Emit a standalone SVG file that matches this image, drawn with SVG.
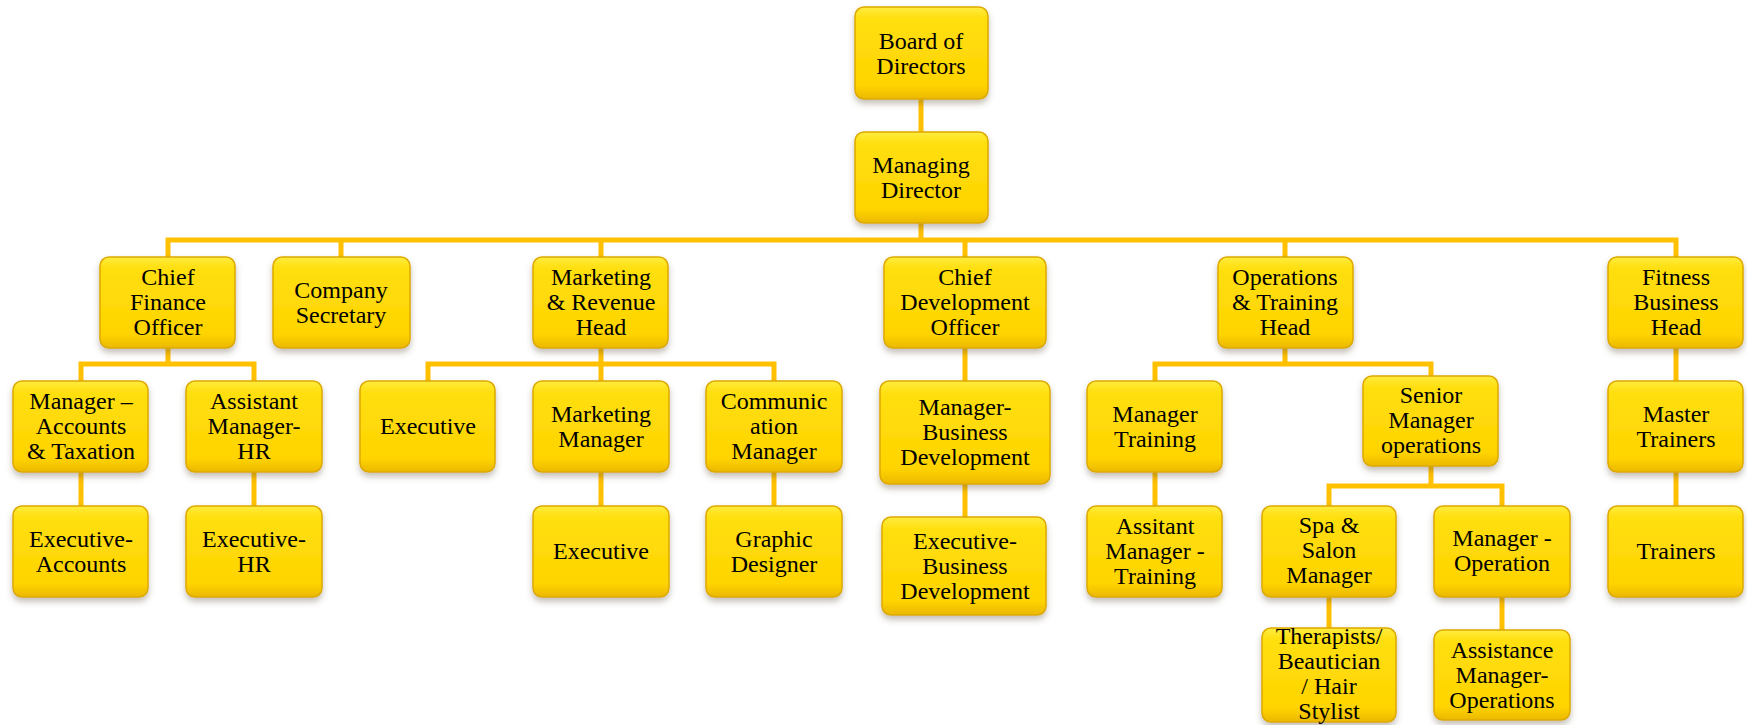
<svg xmlns="http://www.w3.org/2000/svg" width="1747" height="725" viewBox="0 0 1747 725">
<defs>
<linearGradient id="g" x1="0" y1="0" x2="0" y2="1">
<stop offset="0" stop-color="#FFEC40"/>
<stop offset="0.12" stop-color="#FFDF10"/>
<stop offset="0.85" stop-color="#FFD400"/>
<stop offset="1" stop-color="#EBB800"/>
</linearGradient>
<filter id="sh" x="-10%" y="-10%" width="120%" height="130%">
<feDropShadow dx="0" dy="4" stdDeviation="3" flood-color="#5a4a30" flood-opacity="0.35"/>
</filter>
<style>
.b{fill:url(#g);stroke:#DDA900;stroke-width:1.5;filter:url(#sh)}
.t{font-family:"Liberation Serif","Times New Roman",serif;font-size:24px;fill:#000;text-anchor:middle}
.c{fill:none;stroke:#FFC000;stroke-width:5;stroke-linejoin:miter;stroke-linecap:butt}
</style>
</defs>
<rect width="1747" height="725" fill="#fff"/>
<g id="connectors">
<path class="c" d="M921 99V132M921 223V240"/>
<path class="c" d="M168 257V240H1676V257M341 240V257M601 240V257M965 240V257M1285 240V257"/>
<path class="c" d="M168 348V364M81 381V364H254V381M81 472V506M254 472V506"/>
<path class="c" d="M601 348V381M428 381V364H774V381M601 472V506M774 472V506"/>
<path class="c" d="M965 348V381M965 484V517"/>
<path class="c" d="M1285 348V364M1155 381V364H1431V376M1155 472V506"/>
<path class="c" d="M1431 466V486M1329 506V486H1502V506M1329 597V628M1502 597V630"/>
<path class="c" d="M1676 348V381M1676 472V506"/>
</g>
<g id="board"><rect class="b" x="855" y="7" width="133" height="92" rx="9"/><text class="t" x="921" y="48.5">Board of</text><text class="t" x="921" y="73.5">Directors</text></g>
<g id="md"><rect class="b" x="855" y="132" width="133" height="91" rx="9"/><text class="t" x="921" y="173">Managing</text><text class="t" x="921" y="198">Director</text></g>
<g id="cfo"><rect class="b" x="100" y="257" width="135" height="91" rx="9"/><text class="t" x="168" y="285">Chief</text><text class="t" x="168" y="310">Finance</text><text class="t" x="168" y="335">Officer</text></g>
<g id="cs"><rect class="b" x="273" y="257" width="137" height="91" rx="9"/><text class="t" x="341" y="298">Company</text><text class="t" x="341" y="323">Secretary</text></g>
<g id="mrh"><rect class="b" x="533" y="257" width="135" height="91" rx="9"/><text class="t" x="601" y="285">Marketing</text><text class="t" x="601" y="310">&amp; Revenue</text><text class="t" x="601" y="335">Head</text></g>
<g id="cdo"><rect class="b" x="884" y="257" width="162" height="91" rx="9"/><text class="t" x="965" y="285">Chief</text><text class="t" x="965" y="310">Development</text><text class="t" x="965" y="335">Officer</text></g>
<g id="oth"><rect class="b" x="1218" y="257" width="135" height="91" rx="9"/><text class="t" x="1285" y="285">Operations</text><text class="t" x="1285" y="310">&amp; Training</text><text class="t" x="1285" y="335">Head</text></g>
<g id="fbh"><rect class="b" x="1608" y="257" width="135" height="91" rx="9"/><text class="t" x="1676" y="285">Fitness</text><text class="t" x="1676" y="310">Business</text><text class="t" x="1676" y="335">Head</text></g>
<g id="mat"><rect class="b" x="13" y="381" width="135" height="91" rx="9"/><text class="t" x="81" y="409">Manager –</text><text class="t" x="81" y="434">Accounts</text><text class="t" x="81" y="459">&amp; Taxation</text></g>
<g id="amhr"><rect class="b" x="186" y="381" width="136" height="91" rx="9"/><text class="t" x="254" y="409">Assistant</text><text class="t" x="254" y="434">Manager-</text><text class="t" x="254" y="459">HR</text></g>
<g id="exec1"><rect class="b" x="360" y="381" width="135" height="91" rx="9"/><text class="t" x="428" y="434">Executive</text></g>
<g id="mm"><rect class="b" x="533" y="381" width="136" height="91" rx="9"/><text class="t" x="601" y="422">Marketing</text><text class="t" x="601" y="447">Manager</text></g>
<g id="cm"><rect class="b" x="706" y="381" width="136" height="91" rx="9"/><text class="t" x="774" y="409">Communic</text><text class="t" x="774" y="434">ation</text><text class="t" x="774" y="459">Manager</text></g>
<g id="mbd"><rect class="b" x="880" y="381" width="170" height="103" rx="9"/><text class="t" x="965" y="415">Manager-</text><text class="t" x="965" y="440">Business</text><text class="t" x="965" y="465">Development</text></g>
<g id="mt"><rect class="b" x="1087" y="381" width="135" height="91" rx="9"/><text class="t" x="1155" y="422">Manager</text><text class="t" x="1155" y="447">Training</text></g>
<g id="smo"><rect class="b" x="1363" y="376" width="135" height="90" rx="9"/><text class="t" x="1431" y="403">Senior</text><text class="t" x="1431" y="428">Manager</text><text class="t" x="1431" y="453">operations</text></g>
<g id="mtr"><rect class="b" x="1608" y="381" width="135" height="91" rx="9"/><text class="t" x="1676" y="422">Master</text><text class="t" x="1676" y="447">Trainers</text></g>
<g id="ea"><rect class="b" x="13" y="506" width="135" height="91" rx="9"/><text class="t" x="81" y="547">Executive-</text><text class="t" x="81" y="572">Accounts</text></g>
<g id="ehr"><rect class="b" x="186" y="506" width="136" height="91" rx="9"/><text class="t" x="254" y="547">Executive-</text><text class="t" x="254" y="572">HR</text></g>
<g id="exec2"><rect class="b" x="533" y="506" width="136" height="91" rx="9"/><text class="t" x="601" y="559">Executive</text></g>
<g id="gd"><rect class="b" x="706" y="506" width="136" height="91" rx="9"/><text class="t" x="774" y="547">Graphic</text><text class="t" x="774" y="572">Designer</text></g>
<g id="ebd"><rect class="b" x="882" y="517" width="164" height="98" rx="9"/><text class="t" x="965" y="549">Executive-</text><text class="t" x="965" y="574">Business</text><text class="t" x="965" y="599">Development</text></g>
<g id="amt"><rect class="b" x="1087" y="506" width="135" height="91" rx="9"/><text class="t" x="1155" y="534">Assitant</text><text class="t" x="1155" y="559">Manager -</text><text class="t" x="1155" y="584">Training</text></g>
<g id="ssm"><rect class="b" x="1262" y="506" width="134" height="91" rx="9"/><text class="t" x="1329" y="533">Spa &amp;</text><text class="t" x="1329" y="558">Salon</text><text class="t" x="1329" y="583">Manager</text></g>
<g id="mo"><rect class="b" x="1434" y="506" width="136" height="91" rx="9"/><text class="t" x="1502" y="546">Manager -</text><text class="t" x="1502" y="571">Operation</text></g>
<g id="tr"><rect class="b" x="1608" y="506" width="135" height="91" rx="9"/><text class="t" x="1676" y="559">Trainers</text></g>
<g id="tbh"><rect class="b" x="1262" y="628" width="134" height="94" rx="9"/><text class="t" x="1329" y="644">Therapists/</text><text class="t" x="1329" y="669">Beautician</text><text class="t" x="1329" y="694">/ Hair</text><text class="t" x="1329" y="719">Stylist</text></g>
<g id="amo"><rect class="b" x="1434" y="630" width="136" height="90" rx="9"/><text class="t" x="1502" y="658">Assistance</text><text class="t" x="1502" y="683">Manager-</text><text class="t" x="1502" y="708">Operations</text></g>
</svg>
